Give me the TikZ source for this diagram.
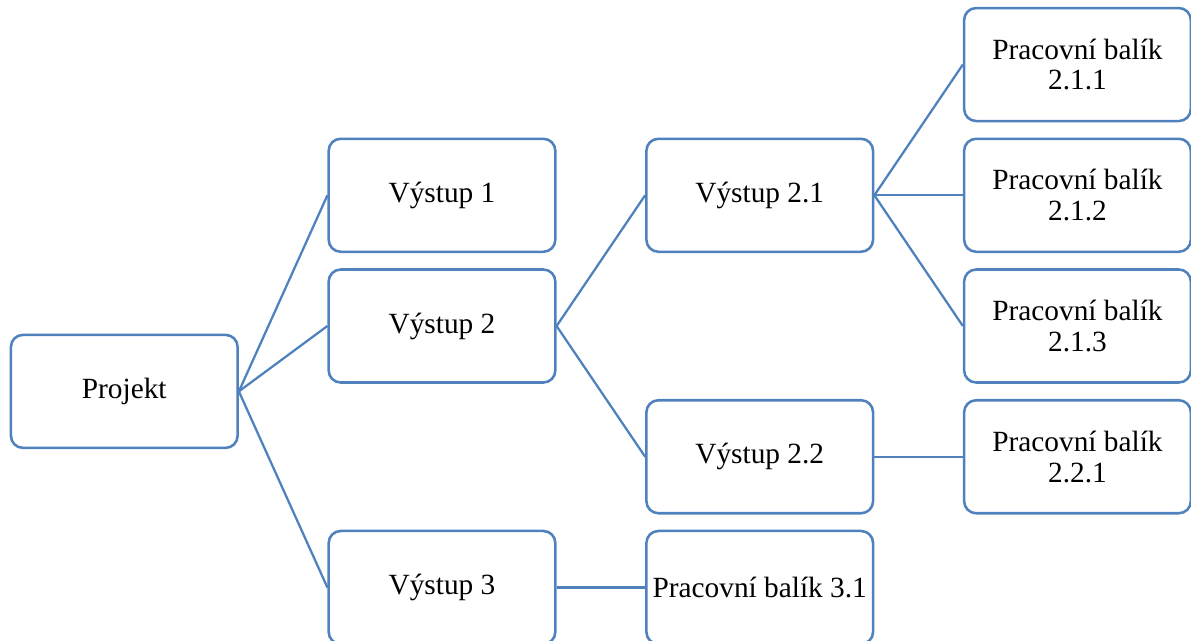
\documentclass[tikz,border=0pt]{standalone}
\usepackage{fontspec}
\setmainfont{Liberation Serif}
\usetikzlibrary{positioning, calc}
\definecolor{wbsblue}{RGB}{79,129,189}

\begin{document}
\begin{tikzpicture}[
        box/.style={rectangle, rounded corners=9pt, draw=wbsblue, line width=1.9pt, fill=white, minimum width=170pt, minimum height=84.75pt, inner sep=1pt, align=center, font=\fontsize{22}{23}\selectfont},
        line/.style={-, draw=wbsblue, line width=1.7pt},
        node distance=11.4pt and 66.4pt
    ]
        \useasboundingbox (0,0) rectangle (893.25pt,-480pt);

        % Work packages (right column)
        \node[box] (pb211) at (808.1pt,-48.4pt) {Pracovní balík\\2.1.1};
        \node[box, below=of pb211] (pb212) {Pracovní balík\\2.1.2};
        \node[box, below=of pb212] (pb213) {Pracovní balík\\2.1.3};
        \node[box, below=of pb213] (pb221) {Pracovní balík\\2.2.1};

        % Second level outputs
        \node[box, left=of pb212] (v21) {Výstup 2.1};
        \node[box, left=of pb221] (v22) {Výstup 2.2};
        \node[box, below=of v22] (pb31) {Pracovní balík 3.1};

        % First level outputs
        \node[box, left=of v21] (v1) {Výstup 1};
        \node[box, below=of v1] (v2) {Výstup 2};
        \node[box, left=of pb31] (v3) {Výstup 3};

        % Project
        \coordinate (mid) at ($(v2.west)!0.5!(v2.west |- v22.west)$);
        \node[box, left=of mid] (proj) {Projekt};

        \draw[line] (proj.east) -- (v1.west);
        \draw[line] (proj.east) -- (v2.west);
        \draw[line] (proj.east) -- (v3.west);
        \draw[line] (v2.east) -- (v21.west);
        \draw[line] (v2.east) -- (v22.west);
        \draw[line] (v3.east) -- (pb31.west);
        \draw[line] (v21.east) -- (pb211.west);
        \draw[line] (v21.east) -- (pb212.west);
        \draw[line] (v21.east) -- (pb213.west);
        \draw[line] (v22.east) -- (pb221.west);

    \end{tikzpicture}
\end{document}
